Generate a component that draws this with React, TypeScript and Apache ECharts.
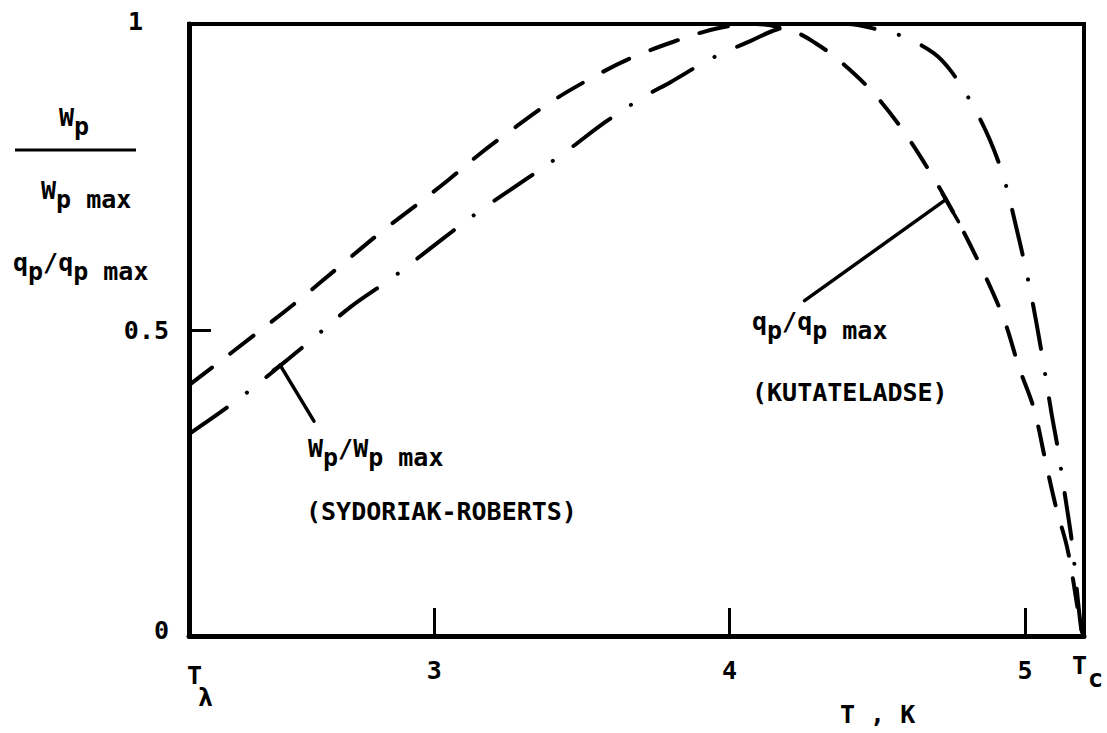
import { useEffect, useRef } from "react";
import * as echarts from "echarts";

// Temperature (K) and normalised peak heat flux q_p / q_p max (Kutateladse)
const qpTemps = [2.17, 2.40, 2.54, 2.68, 2.82, 2.95, 3.05, 3.15, 3.24, 3.39, 3.53, 3.66, 3.81, 3.96, 4.09, 4.22, 4.29, 4.37, 4.48, 4.58, 4.68, 4.77, 4.86, 4.93, 4.98, 5.03, 5.07, 5.105, 5.145, 5.19, 5.2];
const qpValues = [0.41, 0.495, 0.548, 0.604, 0.66, 0.708, 0.746, 0.786, 0.819, 0.871, 0.911, 0.943, 0.971, 0.993, 1.0, 0.987, 0.969, 0.941, 0.891, 0.831, 0.757, 0.681, 0.594, 0.516, 0.439, 0.372, 0.285, 0.211, 0.14, 0.013, 0];

// Temperature (K) and normalised W_p / W_p max (Sydoriak-Roberts)
const wpTemps = [2.17, 2.34, 2.58, 2.715, 2.86, 3.01, 3.15, 3.31, 3.45, 3.58, 3.71, 3.8, 3.94, 4.07, 4.16, 4.26, 4.4, 4.51, 4.58, 4.69, 4.75, 4.82, 4.88, 4.93, 4.97, 5.0, 5.03, 5.06, 5.09, 5.11, 5.14, 5.16, 5.19, 5.2];
const wpValues = [0.33, 0.388, 0.482, 0.537, 0.586, 0.642, 0.693, 0.746, 0.793, 0.84, 0.881, 0.905, 0.944, 0.972, 0.991, 1.0, 1.0, 0.99, 0.981, 0.953, 0.923, 0.87, 0.812, 0.746, 0.669, 0.606, 0.535, 0.453, 0.364, 0.31, 0.216, 0.15, 0.013, 0];

// Axis range: lambda point to critical point of helium
const T_LAMBDA = 2.17;
const T_C = 5.2;
const xTickValues = [3, 4, 5];
const yLabelValues = [0, 0.5, 1];
const yTickValues = [0.5];

// Leader lines tying the curve captions to their curves (data coordinates)
const wpLeader = [[2.478, 0.443], [2.593, 0.351]];
const wpLeaderBar = [[2.455, 0.434], [2.5, 0.45]];
const qpLeader = [[4.732, 0.713], [4.254, 0.548]];
const qpLeaderBar = [[4.72, 0.723], [4.775, 0.677]];

const FONT = '"DejaVu Sans Mono", monospace';
const SIZE = 25;
const ADV = SIZE * 0.602;

type Seg = { t: string; sub?: boolean };

function textRun(x0: number, y: number, segs: Seg[], subDy = 9) {
  const els: any[] = [];
  let x = x0;
  for (const s of segs) {
    els.push({
      type: "text",
      x,
      y: y + (s.sub ? subDy : 0),
      silent: true,
      style: {
        text: s.t,
        fontFamily: FONT,
        fontSize: SIZE,
        fontWeight: "bold",
        fill: "#000",
        align: "left",
        verticalAlign: "middle",
      },
    });
    x += s.t.length * ADV;
  }
  return els;
}

function zip(xs: number[], ys: number[]) {
  return xs.map((x, i) => [x, ys[i]]);
}

function leaderSeries(points: number[][]) {
  return {
    type: "line",
    data: points,
    symbol: "none",
    silent: true,
    clip: false,
    lineStyle: { color: "#000", width: 3.5, cap: "round" },
  };
}

export default function App() {
  const ref = useRef<HTMLDivElement>(null);

  useEffect(() => {
    if (!ref.current) return;
    const chart = echarts.init(ref.current, undefined, { renderer: "svg" });

    const graphic: any[] = [
      // y-axis title: W_p over W_p max, then q_p/q_p max
      ...textRun(59, 117, [{ t: "W" }, { t: "p", sub: true }]),
      {
        type: "line",
        silent: true,
        shape: { x1: 15, y1: 150, x2: 136, y2: 150 },
        style: { stroke: "#000", lineWidth: 3 },
      },
      ...textRun(41, 190, [{ t: "W" }, { t: "p max", sub: true }]),
      ...textRun(13, 262, [{ t: "q" }, { t: "p", sub: true }, { t: "/q" }, { t: "p max", sub: true }]),
      // x-axis end labels
      ...textRun(187, 675, [{ t: "T" }]),
      ...textRun(198, 697, [{ t: "λ" }]),
      ...textRun(1072, 665, [{ t: "T" }]),
      ...textRun(1088, 678, [{ t: "c" }]),
      // x-axis title
      ...textRun(840, 714, [{ t: "T , K" }]),
      // curve captions
      ...textRun(308, 448, [{ t: "W" }, { t: "p", sub: true }, { t: "/W" }, { t: "p max", sub: true }]),
      ...textRun(306, 511, [{ t: "(SYDORIAK-ROBERTS)" }]),
      ...textRun(752, 321, [{ t: "q" }, { t: "p", sub: true }, { t: "/q" }, { t: "p max", sub: true }]),
      ...textRun(752, 392, [{ t: "(KUTATELADSE)" }]),
    ];

    chart.setOption({
      animation: false,
      backgroundColor: "#fff",
      grid: {
        left: 189,
        top: 24,
        width: 895,
        height: 612,
        show: true,
        borderColor: "#000",
        borderWidth: 4,
      },
      xAxis: {
        type: "value",
        min: T_LAMBDA,
        max: T_C,
        splitLine: { show: false },
        axisLine: { show: true, lineStyle: { color: "#000", width: 5 } },
        axisTick: {
          show: true,
          inside: true,
          length: 28,
          customValues: xTickValues,
          lineStyle: { color: "#000", width: 3 },
        },
        axisLabel: {
          customValues: xTickValues,
          margin: 22,
          fontFamily: FONT,
          fontSize: SIZE,
          fontWeight: "bold",
          color: "#000",
          formatter: (v: number) => String(v),
        },
      },
      yAxis: {
        type: "value",
        min: 0,
        max: 1,
        splitLine: { show: false },
        axisLine: { show: true, lineStyle: { color: "#000", width: 5 } },
        axisTick: {
          show: true,
          inside: true,
          length: 22,
          customValues: yTickValues,
          lineStyle: { color: "#000", width: 3 },
        },
        axisLabel: {
          customValues: yLabelValues,
          margin: 20,
          fontFamily: FONT,
          fontSize: SIZE,
          fontWeight: "bold",
          color: "#000",
          formatter: (v: number) => (v === 1 ? "{one|1}" : v === 0.5 ? "{half|0.5}" : "{zero|0}"),
          rich: {
            one: { fontFamily: FONT, fontSize: SIZE, fontWeight: "bold", color: "#000", padding: [0, 26, 6, 0] },
            half: { fontFamily: FONT, fontSize: SIZE, fontWeight: "bold", color: "#000" },
            zero: { fontFamily: FONT, fontSize: SIZE, fontWeight: "bold", color: "#000", padding: [0, 0, 12, 0] },
          },
        },
      },
      series: [
        {
          name: "qp/qp max (Kutateladse)",
          type: "line",
          data: zip(qpTemps, qpValues),
          symbol: "none",
          smooth: 0.35,
          silent: true,
          clip: false,
          lineStyle: { color: "#000", width: 4, type: [29, 23], cap: "round" },
        },
        {
          name: "Wp/Wp max (Sydoriak-Roberts)",
          type: "line",
          data: zip(wpTemps, wpValues),
          symbol: "none",
          smooth: 0.35,
          silent: true,
          clip: false,
          lineStyle: { color: "#000", width: 4, type: [46, 25, 0.1, 25], cap: "round" },
        },
        leaderSeries(wpLeader),
        leaderSeries(wpLeaderBar),
        leaderSeries(qpLeader),
        leaderSeries(qpLeaderBar),
      ],
      graphic,
    });

    return () => chart.dispose();
  }, []);

  return (
    <div
      ref={ref}
      style={{ position: "fixed", left: 0, top: 0, width: 1107, height: 733, background: "#fff" }}
    />
  );
}
